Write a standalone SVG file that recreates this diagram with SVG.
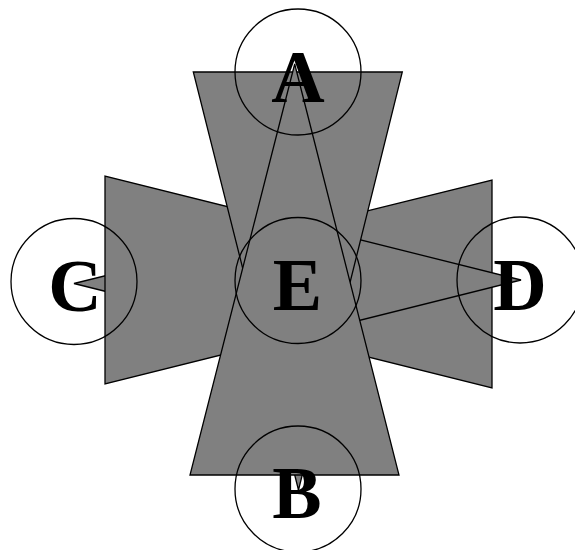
<svg xmlns="http://www.w3.org/2000/svg" width="575" height="550" viewBox="0 0 575 550">
<style>
.wedge{fill:#808080;stroke:#000;stroke-width:1.3;stroke-linejoin:miter}
.node circle{fill:none;stroke:#000;stroke-width:1.3}
.node text{font-family:"Liberation Serif","Times New Roman",serif;font-weight:bold;font-size:74px;text-anchor:middle;fill:#000}
</style>
<rect width="575" height="550" fill="#fff"/>
<g id="connectors">
<polygon class="wedge" points="492,180 492,388 74,283.5"/>
<polygon class="wedge" points="105,176 105,384 521,280"/>
<polygon class="wedge" points="193.3,72 402.3,72 298.5,490"/>
<polygon class="wedge" points="190,475 399,475 294.7,64"/>
</g>
<g id="A" class="node"><circle cx="298" cy="72" r="63"/><text x="298" y="102">A</text></g>
<g id="B" class="node"><circle cx="298" cy="489" r="63"/><text x="297" y="518">B</text></g>
<g id="C" class="node"><circle cx="74" cy="281.5" r="63"/><text x="75" y="311">C</text></g>
<g id="D" class="node"><circle cx="520" cy="280" r="63"/><text x="520" y="309.5">D</text></g>
<g id="E" class="node"><circle cx="298" cy="280.5" r="63"/><text x="297.5" y="310">E</text></g>
</svg>
